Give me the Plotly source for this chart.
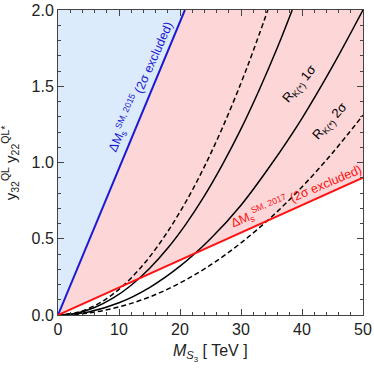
import plotly.graph_objects as go

# straight exclusion lines (M_S3 in TeV, coupling product)
blue_x = [0, 20.8]
blue_y = [0, 2.0]
red_x = [0, 50]
red_y = [0, 0.9]

# R_K(*) curves
s1_x = [0, 3, 6, 9, 12, 15, 18, 21, 24, 27, 30, 33, 36, 38.4]
s1_y = [0, 0.012, 0.049, 0.110, 0.195, 0.305, 0.439, 0.598, 0.781, 0.989, 1.220, 1.477, 1.757, 2.0]
d1_x = [0, 3, 6, 9, 12, 15, 18, 21, 24, 27, 30, 32, 34.4]
d1_y = [0, 0.015, 0.061, 0.137, 0.243, 0.380, 0.548, 0.745, 0.973, 1.232, 1.521, 1.731, 2.0]
s2_x = [0, 5, 10, 15, 20, 25, 30, 35, 40, 45, 50]
s2_y = [0, 0.02, 0.08, 0.18, 0.32, 0.50, 0.72, 0.99, 1.29, 1.63, 2.0]
d2_x = [0, 5, 10, 15, 20, 25, 30, 35, 40, 45, 50]
d2_y = [0, 0.013, 0.053, 0.118, 0.21, 0.328, 0.473, 0.643, 0.84, 1.063, 1.31]

x_ticks = [0, 10, 20, 30, 40, 50]
y_ticks = [0.0, 0.5, 1.0, 1.5, 2.0]
xmax, ymax = 50, 2.0

FONT = 'Liberation Sans, Arial'

fig = go.Figure()

# light blue region left of the 2015 line
fig.add_trace(go.Scatter(x=[blue_x[0], blue_x[1], 0], y=[blue_y[0], blue_y[1], ymax],
                         fill='toself', fillcolor='#dcebfb', line=dict(width=0),
                         mode='lines', hoverinfo='skip'))
# pink region between the two lines
fig.add_trace(go.Scatter(x=red_x + [xmax, blue_x[1]], y=red_y + [ymax, blue_y[1]],
                         fill='toself', fillcolor='#fdd6d8', line=dict(width=0),
                         mode='lines', hoverinfo='skip'))

for xs, ys, dash in [(d1_x, d1_y, '5px,3px'), (s1_x, s1_y, 'solid'),
                     (s2_x, s2_y, 'solid'), (d2_x, d2_y, '5px,3px')]:
    fig.add_trace(go.Scatter(x=xs, y=ys, mode='lines', line_shape='spline',
                             line=dict(color='black', width=1.5, dash=dash)))

fig.add_trace(go.Scatter(x=blue_x, y=blue_y, mode='lines', line=dict(color='#1a1ad6', width=2)))
fig.add_trace(go.Scatter(x=red_x, y=red_y, mode='lines', line=dict(color='#ff1010', width=2)))

fig.add_annotation(x=13.6, y=1.50, text='ΔM<sub>s</sub><sup>SM, 2015</sup> (2σ excluded)',
                   textangle=-66, showarrow=False, font=dict(family=FONT, size=12.5, color='#1a1ad6'))
fig.add_annotation(x=39.1, y=0.78, text='ΔM<sub>s</sub><sup>SM, 2017</sup> (2σ excluded)',
                   textangle=-23, showarrow=False, font=dict(family=FONT, size=12.5, color='#ff1010'))
fig.add_annotation(x=39.6, y=1.51, text='R<sub>K(*)</sub> 1σ', textangle=-50,
                   showarrow=False, font=dict(family=FONT, size=13, color='black'))
fig.add_annotation(x=44.6, y=1.27, text='R<sub>K(*)</sub> 2σ', textangle=-48,
                   showarrow=False, font=dict(family=FONT, size=13, color='black'))

# axis titles as annotations so the plot area stays fixed
fig.add_annotation(x=0.5, y=-0.125, xref='paper', yref='paper', showarrow=False,
                   xanchor='center', yanchor='middle',
                   text='<i>M</i><sub><i>S</i><sub>3</sub></sub> [ TeV ]',
                   font=dict(family=FONT, size=16, color='#222'))
fig.add_annotation(x=-0.158, y=0.5, xref='paper', yref='paper', showarrow=False, textangle=-90,
                   xanchor='center', yanchor='middle',
                   text='y<sub>32</sub><sup>QL</sup> y<sub>22</sub><sup>QL*</sup>',
                   font=dict(family=FONT, size=15, color='#222'))

axis_common = dict(showgrid=False, zeroline=False, showline=True, linecolor='#444',
                   linewidth=1, mirror='allticks', ticks='inside', ticklen=6,
                   tickcolor='#444', automargin=False,
                   tickfont=dict(family=FONT, size=16, color='#222'))

fig.update_layout(
    width=374, height=368, showlegend=False,
    plot_bgcolor='white', paper_bgcolor='white',
    margin=dict(l=58, r=11, t=10, b=53),
    xaxis=dict(axis_common, range=[0, xmax], tickvals=x_ticks,
               minor=dict(dtick=2, ticks='inside', ticklen=3, tickcolor='#444')),
    yaxis=dict(axis_common, range=[0, ymax], tickvals=y_ticks, tickformat='.1f',
               minor=dict(dtick=0.1, ticks='inside', ticklen=3, tickcolor='#444')),
)

# drop the default body margin so the figure sits at the page corner
fig.write_html("out.html", config={'displayModeBar': False},
               post_script="document.body.style.margin='0';")
